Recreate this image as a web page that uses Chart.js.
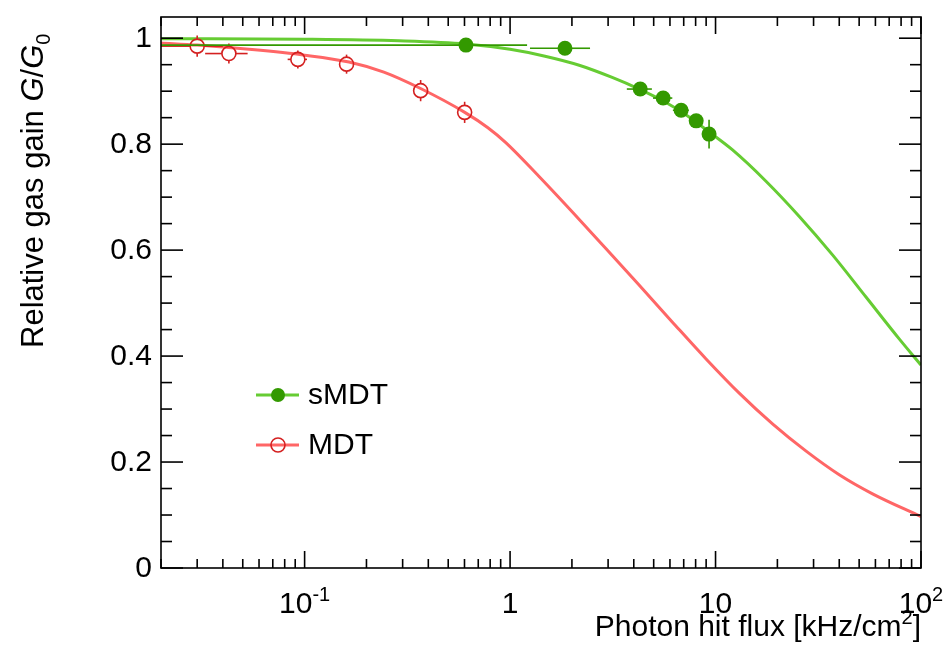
<!DOCTYPE html>
<html>
<head>
<meta charset="utf-8">
<script src="https://cdn.jsdelivr.net/npm/chart.js@4.4.1/dist/chart.umd.min.js"></script>
<style>
  html, body { margin: 0; padding: 0; background: #fff; }
  canvas { display: block; }
</style>
</head>
<body>
<canvas id="gain-chart" width="952" height="671"></canvas>
<script>
const SMDT_X = [0.61, 1.85, 4.3, 5.56, 6.8, 8.05, 9.3];
const SMDT_Y = [0.987, 0.981, 0.904, 0.887, 0.864, 0.844, 0.819];
const SMDT_XERR = [0.6, 0.6, 0.6, 0.6, 0.6, 0.6, 0.6];
const SMDT_YERR = [0.005, 0.008, 0.01, 0.008, 0.008, 0.01, 0.027];

const MDT_X = [0.030, 0.0428, 0.0927, 0.160, 0.367, 0.601];
const MDT_Y = [0.985, 0.971, 0.960, 0.951, 0.901, 0.860];
const MDT_XERR = [0.01, 0.01, 0.01, 0.01, 0.01, 0.01];
const MDT_YERR = [0.02, 0.019, 0.017, 0.018, 0.02, 0.02];

/* Fit curves, sampled off the plot */
const SMDT_FIT_X = [0.02, 0.1, 0.288, 0.61, 1, 1.48, 2.17, 3.14, 4.25, 5.6, 7.2, 9.3, 12.1, 17.6, 25.5, 37.1, 54.1, 78.5, 100];
const SMDT_FIT_Y = [0.999, 0.998, 0.995, 0.989, 0.979, 0.966, 0.949, 0.926, 0.904, 0.881, 0.855, 0.823, 0.789, 0.730, 0.664, 0.591, 0.511, 0.432, 0.383];
const MDT_FIT_X = [0.02, 0.03, 0.0536, 0.1, 0.1645, 0.243, 0.367, 0.602, 0.78, 0.953, 1.384, 2.01, 2.925, 4.245, 6.17, 8.97, 13.04, 18.94, 27.5, 40, 58.1, 100];
const MDT_FIT_Y = [0.991, 0.987, 0.979, 0.968, 0.955, 0.936, 0.905, 0.860, 0.831, 0.803, 0.739, 0.672, 0.603, 0.534, 0.464, 0.395, 0.330, 0.272, 0.221, 0.176, 0.140, 0.097];

/* Axes */
const X_MIN = 0.02, X_MAX = 100;
const Y_MIN = 0, Y_MAX = 1.04;
const X_MAJOR = [0.1, 1, 10, 100];
const X_LABELS = [['10', '-1'], ['1', ''], ['10', ''], ['10', '2']];
const Y_TICKS = [0, 0.2, 0.4, 0.6, 0.8, 1];
const Y_LABELS = ['0', '0.2', '0.4', '0.6', '0.8', '1'];

const FONT = '"Liberation Sans", Arial, sans-serif';
const GREEN_LINE = '#66cc33', GREEN_MARK = '#339900';
const RED_LINE = '#ff6666', RED_MARK = '#d42020';

function pts(xs, ys) {
  return xs.map(function (x, i) { return { x: x, y: ys[i] }; });
}

function richText(ctx, parts, x, y, align) {
  let w = 0;
  parts.forEach(function (p) { ctx.font = p.font; w += ctx.measureText(p.t).width; });
  let cx = align === 'right' ? x - w : (align === 'center' ? x - w / 2 : x);
  parts.forEach(function (p) {
    ctx.font = p.font;
    ctx.fillText(p.t, cx, y + (p.dy || 0));
    cx += ctx.measureText(p.t).width;
  });
}

function seg(ctx, x1, y1, x2, y2) {
  ctx.beginPath(); ctx.moveTo(x1, y1); ctx.lineTo(x2, y2); ctx.stroke();
}

/* error bars, drawn just before the points of a dataset */
const errorBars = {
  id: 'errorBars',
  beforeDatasetDraw(chart, args) {
    const ds = chart.data.datasets[args.index];
    if (!ds.xErr) return;
    const ctx = chart.ctx, xs = chart.scales.x, ys = chart.scales.y, a = chart.chartArea;
    ctx.save();
    ctx.beginPath(); ctx.rect(a.left, a.top, a.right - a.left, a.bottom - a.top); ctx.clip();
    ctx.strokeStyle = ds.borderColor; ctx.lineWidth = 1.6;
    const gap = ds.gap;
    ds.data.forEach(function (p, i) {
      const px = xs.getPixelForValue(p.x), py = ys.getPixelForValue(p.y);
      const xl = xs.getPixelForValue(Math.max(p.x - ds.xErr[i], 1e-4));
      const xr = xs.getPixelForValue(p.x + ds.xErr[i]);
      const yt = ys.getPixelForValue(p.y + ds.yErr[i]);
      const yb = ys.getPixelForValue(p.y - ds.yErr[i]);
      if (px - xl > gap) seg(ctx, xl, py, px - gap, py);
      if (xr - px > gap) seg(ctx, px + gap, py, xr, py);
      if (py - yt > gap) seg(ctx, px, yt, px, py - gap);
      if (yb - py > gap) seg(ctx, px, py + gap, px, yb);
    });
    ctx.restore();
  }
};

/* frame, ROOT style ticks, labels, titles and legend */
const frame = {
  id: 'frame',
  afterDraw(chart) {
    const ctx = chart.ctx, a = chart.chartArea, xs = chart.scales.x, ys = chart.scales.y;
    ctx.save();
    ctx.strokeStyle = '#000'; ctx.fillStyle = '#000'; ctx.lineWidth = 1.6;
    ctx.strokeRect(a.left, a.top, a.right - a.left, a.bottom - a.top);

    // y ticks
    for (let k = 0; k * 0.05 <= Y_MAX + 1e-9; k++) {
      const y = ys.getPixelForValue(k * 0.05);
      const len = k % 4 === 0 ? 22 : 11;
      seg(ctx, a.left, y, a.left + len, y);
      seg(ctx, a.right, y, a.right - len, y);
    }
    // x ticks
    for (let e = -2; e <= 2; e++) {
      for (let m = 1; m <= 9; m++) {
        const v = m * Math.pow(10, e);
        if (v < X_MIN * 0.999 || v > X_MAX * 1.001) continue;
        const x = xs.getPixelForValue(v);
        const len = m === 1 ? 17 : 9;
        seg(ctx, x, a.bottom, x, a.bottom - len);
        seg(ctx, x, a.top, x, a.top + len);
      }
    }

    // tick labels
    ctx.textBaseline = 'middle'; ctx.textAlign = 'right';
    ctx.font = '30px ' + FONT;
    Y_TICKS.forEach(function (v, i) {
      ctx.fillText(Y_LABELS[i], a.left - 9, ys.getPixelForValue(v) + 1);
    });
    ctx.textBaseline = 'alphabetic'; ctx.textAlign = 'left';
    X_MAJOR.forEach(function (v, i) {
      const parts = [{ t: X_LABELS[i][0], font: '30px ' + FONT }];
      if (X_LABELS[i][1]) parts.push({ t: X_LABELS[i][1], font: '20px ' + FONT, dy: -12 });
      richText(ctx, parts, xs.getPixelForValue(v), 613, 'center');
    });

    // axis titles
    richText(ctx, [
      { t: 'Photon hit flux [kHz/cm', font: '30px ' + FONT },
      { t: '2', font: '20px ' + FONT, dy: -12 },
      { t: ']', font: '30px ' + FONT }
    ], a.right, 636, 'right');

    ctx.save();
    ctx.translate(43, 348);
    ctx.rotate(-Math.PI / 2);
    richText(ctx, [
      { t: 'Relative gas gain ', font: '31px ' + FONT },
      { t: 'G', font: 'italic 31px ' + FONT },
      { t: '/', font: '31px ' + FONT },
      { t: 'G', font: 'italic 31px ' + FONT },
      { t: '0', font: '20px ' + FONT, dy: 7 }
    ], 0, 0, 'left');
    ctx.restore();

    // legend
    const rows = [
      { label: 'sMDT', line: GREEN_LINE, mark: GREEN_MARK, filled: true, y: 395 },
      { label: 'MDT', line: RED_LINE, mark: RED_MARK, filled: false, y: 445 }
    ];
    ctx.textBaseline = 'middle';
    rows.forEach(function (r) {
      ctx.strokeStyle = r.line; ctx.lineWidth = 3;
      seg(ctx, 256, r.y, 299, r.y);
      ctx.beginPath(); ctx.arc(278, r.y, 7, 0, Math.PI * 2);
      if (r.filled) { ctx.fillStyle = r.mark; ctx.fill(); }
      else { ctx.strokeStyle = r.mark; ctx.lineWidth = 1.6; ctx.stroke(); }
      ctx.fillStyle = '#000'; ctx.font = '30px ' + FONT;
      ctx.fillText(r.label, 308, r.y + 1);
    });
    ctx.restore();
  }
};

new Chart(document.getElementById('gain-chart'), {
  type: 'scatter',
  data: {
    datasets: [
      {
        label: 'sMDT fit', data: pts(SMDT_FIT_X, SMDT_FIT_Y), showLine: true,
        borderColor: GREEN_LINE, borderWidth: 3, pointRadius: 0,
        cubicInterpolationMode: 'monotone', order: 3
      },
      {
        label: 'MDT fit', data: pts(MDT_FIT_X, MDT_FIT_Y), showLine: true,
        borderColor: RED_LINE, borderWidth: 3, pointRadius: 0,
        cubicInterpolationMode: 'monotone', order: 3
      },
      {
        label: 'MDT', data: pts(MDT_X, MDT_Y), xErr: MDT_XERR, yErr: MDT_YERR, gap: 7,
        borderColor: RED_MARK, backgroundColor: 'rgba(0,0,0,0)', pointRadius: 7,
        pointBorderWidth: 1.6, order: 1
      },
      {
        label: 'sMDT', data: pts(SMDT_X, SMDT_Y), xErr: SMDT_XERR, yErr: SMDT_YERR, gap: 0,
        borderColor: GREEN_MARK, backgroundColor: GREEN_MARK, pointRadius: 7.5,
        pointBorderWidth: 0, order: 0
      }
    ]
  },
  options: {
    responsive: false,
    animation: false,
    devicePixelRatio: 1,
    layout: { padding: { left: 161, right: 31, top: 17, bottom: 103 } },
    plugins: { legend: { display: false }, tooltip: { enabled: false } },
    scales: {
      x: { type: 'logarithmic', min: X_MIN, max: X_MAX, display: false },
      y: { type: 'linear', min: Y_MIN, max: Y_MAX, display: false }
    }
  },
  plugins: [errorBars, frame]
});
</script>
</body>
</html>
